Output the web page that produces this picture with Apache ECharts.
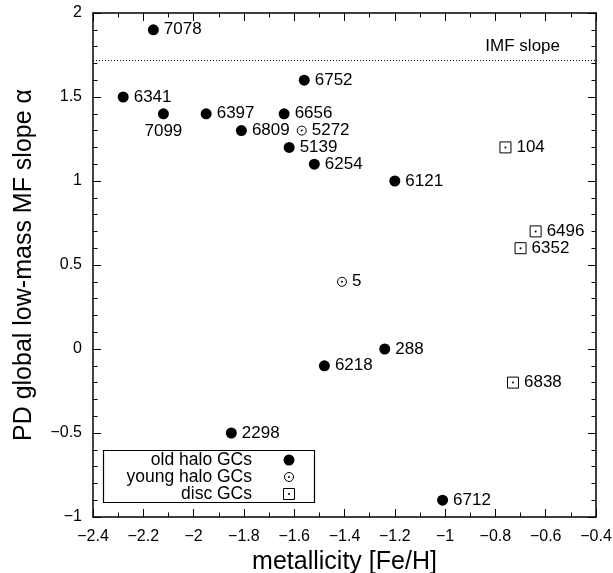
<!DOCTYPE html>
<html>
<head>
<meta charset="utf-8">
<script src="https://cdn.jsdelivr.net/npm/echarts@6/dist/echarts.min.js"></script>
<style>
  html, body { margin: 0; padding: 0; background: #fff; }
  #chart { width: 613px; height: 573px; }
</style>
</head>
<body>
<div id="chart"></div>
<script>
// Globular clusters: metallicity [Fe/H] vs. global low-mass mass-function slope
const oldHaloNames = ['7078', '6341', '7099', '6397', '6656', '6752', '6809', '5139', '6254', '6121', '288', '6218', '2298', '6712'];
const oldHaloFeH   = [-2.16, -2.28, -2.12, -1.95, -1.64, -1.56, -1.81, -1.62, -1.52, -1.20, -1.24, -1.48, -1.85, -1.01];
const oldHaloAlpha = [1.9, 1.5, 1.4, 1.4, 1.4, 1.6, 1.3, 1.2, 1.1, 1.0, 0.0, -0.1, -0.5, -0.9];

const youngHaloNames = ['5272', '5'];
const youngHaloFeH   = [-1.57, -1.41];
const youngHaloAlpha = [1.3, 0.4];

const discNames = ['104', '6496', '6352', '6838'];
const discFeH   = [-0.76, -0.64, -0.70, -0.73];
const discAlpha = [1.2, 0.7, 0.6, -0.2];

// clusters whose name sits under the marker
const labelsBelow = ['7099'];

const imfSlope = 1.72;

const legendLabels = ['old halo GCs', 'young halo GCs', 'disc GCs'];

const FONT = '"Liberation Sans", Arial, Helvetica, sans-serif';
const minus = v => String(v).replace('-', '\u2212');

function points(names, xs, ys) {
  return names.map((n, i) => {
    const d = { name: n, value: [xs[i], ys[i]] };
    if (labelsBelow.includes(n)) d.label = { position: 'bottom', distance: 4 };
    return d;
  });
}

const pointLabel = {
  show: true, position: 'right', distance: 5, formatter: '{b}',
  color: '#000', fontFamily: FONT, fontSize: 17
};

const dotStyle = {
  type: 'scatter', symbol: 'circle', symbolSize: 2, silent: true,
  itemStyle: { color: '#000', opacity: 1 }, label: { show: false }, z: 4
};

const axisCommon = {
  type: 'value',
  axisLine: { show: true, onZero: false, lineStyle: { color: '#000', width: 1.5 } },
  axisTick: { show: true, inside: true, length: 8, lineStyle: { color: '#000', width: 1 } },
  minorTick: { show: true, length: 4.5, lineStyle: { color: '#000', width: 1 } },
  splitLine: { show: false },
  minorSplitLine: { show: false }
};

const xBase = Object.assign({}, axisCommon, { min: -2.4, max: -0.4, interval: 0.2 });
xBase.minorTick = Object.assign({}, axisCommon.minorTick, { splitNumber: 2 });
const yBase = Object.assign({}, axisCommon, { min: -1, max: 2, interval: 0.5 });
yBase.minorTick = Object.assign({}, axisCommon.minorTick, { splitNumber: 5 });

const chart = echarts.init(document.getElementById('chart'), null, { renderer: 'canvas' });

const legendX = 252, symX = 289, rowY = [460, 477, 494];

chart.setOption({
  backgroundColor: '#fff',
  animation: false,
  grid: { left: 93, right: 17, top: 13, bottom: 56, containLabel: false, outerBoundsMode: 'none' },
  xAxis: [
    Object.assign({}, xBase, {
      position: 'bottom',
      name: 'metallicity [Fe/H]', nameLocation: 'middle', nameGap: 31,
      nameTextStyle: { color: '#000', fontFamily: FONT, fontSize: 25 },
      axisLabel: { color: '#000', fontFamily: FONT, fontSize: 16, margin: 12, formatter: minus }
    }),
    Object.assign({}, xBase, { position: 'top', axisLabel: { show: false } })
  ],
  yAxis: [
    Object.assign({}, yBase, {
      position: 'left',
      name: 'PD global low-mass MF slope \u03b1', nameLocation: 'middle', nameGap: 56,
      nameTextStyle: { color: '#000', fontFamily: FONT, fontSize: 25 },
      axisLabel: { color: '#000', fontFamily: FONT, fontSize: 16, margin: 11, formatter: minus }
    }),
    Object.assign({}, yBase, { position: 'right', axisLabel: { show: false } })
  ],
  series: [
    {
      name: legendLabels[0], type: 'scatter', symbol: 'circle', symbolSize: 11,
      itemStyle: { color: '#000', opacity: 1 },
      label: pointLabel,
      data: points(oldHaloNames, oldHaloFeH, oldHaloAlpha),
      z: 3,
      markLine: {
        silent: true, symbol: 'none',
        lineStyle: { color: '#000', width: 1, type: [1, 2] },
        label: {
          show: true, position: 'insideEndTop', formatter: 'IMF slope',
          distance: [36, 5], color: '#000', fontFamily: FONT, fontSize: 17
        },
        data: [{ yAxis: imfSlope }]
      }
    },
    {
      name: legendLabels[1], type: 'scatter', symbol: 'circle', symbolSize: 9,
      itemStyle: { color: '#fff', borderColor: '#000', borderWidth: 1, opacity: 1 },
      label: pointLabel,
      data: points(youngHaloNames, youngHaloFeH, youngHaloAlpha),
      z: 3
    },
    Object.assign({}, dotStyle, { data: points(youngHaloNames, youngHaloFeH, youngHaloAlpha) }),
    {
      name: legendLabels[2], type: 'scatter', symbol: 'rect', symbolSize: 11,
      itemStyle: { color: '#fff', borderColor: '#000', borderWidth: 1, opacity: 1 },
      label: pointLabel,
      data: points(discNames, discFeH, discAlpha),
      z: 3
    },
    Object.assign({}, dotStyle, { data: points(discNames, discFeH, discAlpha) })
  ],
  graphic: [
    {
      type: 'group', z: 10,
      children: [
        { type: 'rect', shape: { x: 103.5, y: 450.5, width: 211, height: 52 },
          style: { fill: '#fff', stroke: '#000', lineWidth: 1.2 } },
        ...legendLabels.map((t, i) => ({
          type: 'text', x: legendX, y: rowY[i],
          style: { text: t, align: 'right', verticalAlign: 'middle', fill: '#000', font: '17.5px ' + FONT }
        })),
        { type: 'circle', shape: { cx: symX, cy: rowY[0], r: 5.5 }, style: { fill: '#000' } },
        { type: 'circle', shape: { cx: symX, cy: rowY[1], r: 4.5 }, style: { fill: '#fff', stroke: '#000', lineWidth: 1 } },
        { type: 'circle', shape: { cx: symX, cy: rowY[1], r: 1 }, style: { fill: '#000' } },
        { type: 'rect', shape: { x: symX - 5.5, y: rowY[2] - 5.5, width: 11, height: 11 }, style: { fill: '#fff', stroke: '#000', lineWidth: 1 } },
        { type: 'circle', shape: { cx: symX, cy: rowY[2], r: 1 }, style: { fill: '#000' } }
      ]
    }
  ]
});
</script>
</body>
</html>
